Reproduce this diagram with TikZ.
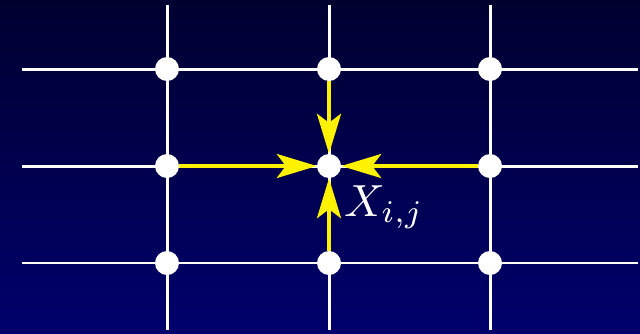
\documentclass[tikz,border=0pt]{standalone}
\usetikzlibrary{arrows.meta}
\begin{document}
\begin{tikzpicture}[x=1pt,y=-1pt,
  gridline/.style={draw=white,line width=3pt},
  gridnode/.style={circle,fill=white,inner sep=0pt,minimum size=24pt},
  flow/.style={draw=yellow,line width=4pt,-{Stealth[length=40pt,width=24pt,inset=9pt]},shorten >=0pt}]
\shade[top color={rgb,255:red,0;green,0;blue,48},bottom color={rgb,255:red,0;green,0;blue,108}] (0,0) rectangle (640,333);
\useasboundingbox (0,0) rectangle (640,333);
% end coordinates
\coordinate (l1) at (22,69);
\coordinate (r1) at (638,69);
\coordinate (l2) at (22,166);
\coordinate (r2) at (638,166);
\coordinate (l3) at (22,263);
\coordinate (r3) at (638,263);
\coordinate (t1) at (167,5);
\coordinate (b1) at (167,330);
\coordinate (t2) at (329,5);
\coordinate (b2) at (329,330);
\coordinate (t3) at (490,5);
\coordinate (b3) at (490,330);
\draw[gridline] (l1) -- (r1);
\draw[gridline] (l2) -- (r2);
\draw[gridline,line width=2.4pt] (l3) -- (r3);
\draw[gridline] (t1) -- (b1);
\draw[gridline] (t2) -- (b2);
\draw[gridline] (t3) -- (b3);
% nodes
\node[gridnode] (n11) at (167,69) {};
\node[gridnode] (n12) at (329,69) {};
\node[gridnode] (n13) at (490,69) {};
\node[gridnode] (n21) at (167,166) {};
\node[gridnode] (n22) at (329,166) {};
\node[gridnode] (n23) at (490,166) {};
\node[gridnode] (n31) at (167,263) {};
\node[gridnode] (n32) at (329,263) {};
\node[gridnode] (n33) at (490,263) {};
% arrows
\draw[flow] (n21) -- (n22);
\draw[flow] (n23) -- (n22);
\draw[flow] (n12) -- (n22);
\draw[flow] (n32) -- (n22);
\node[anchor=base west,text=white,inner sep=0pt] (lbl) at (344,216) {\scalebox{4.5}{$X_{i,j}$}};
\end{tikzpicture}
\end{document}
